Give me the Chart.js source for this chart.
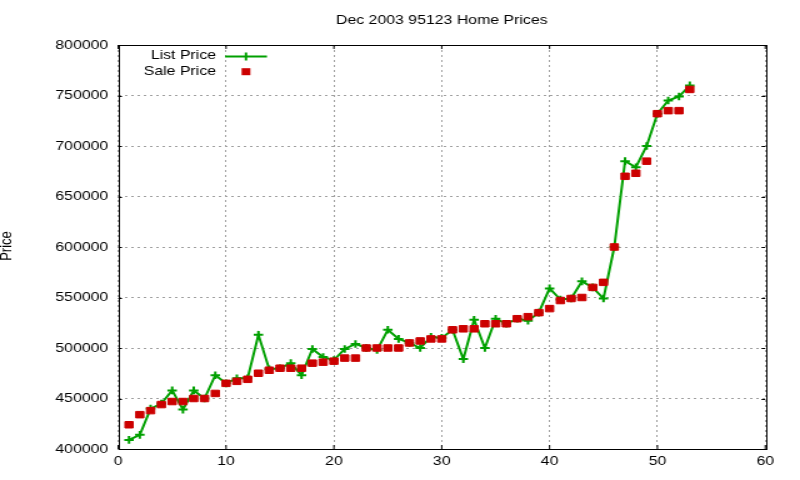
<!DOCTYPE html>
<html>
<head>
<meta charset="utf-8">
<script src="https://cdn.jsdelivr.net/npm/chart.js@4"></script>
<style>
  html, body { margin: 0; padding: 0; background: #fff; overflow: hidden; }
  /* the reference looks like a 640 wide plot stretched to 800 */
  #wrap { width: 640px; height: 480px; transform: scaleX(1.25); transform-origin: 0 0; }
</style>
</head>
<body>
<div id="wrap"><canvas id="priceChart"></canvas></div>
<script>
const days = [1, 2, 3, 4, 5, 6, 7, 8, 9, 10, 11, 12, 13, 14, 15, 16, 17, 18, 19, 20,
  21, 22, 23, 24, 25, 26, 27, 28, 29, 30, 31, 32, 33, 34, 35, 36, 37, 38, 39, 40,
  41, 42, 43, 44, 45, 46, 47, 48, 49, 50, 51, 52, 53];
const listPrice = [409000, 414000, 440000, 445000, 458000, 439000, 458000, 450000, 473000, 465000,
  470000, 470000, 513000, 479000, 480000, 485000, 473000, 499000, 491000, 488000,
  499000, 504000, 500000, 498000, 518000, 509000, 505000, 500000, 511000, 510000,
  518000, 489000, 528000, 500000, 529000, 524000, 529000, 527000, 535000, 559000,
  548000, 549000, 566000, 560000, 549000, 600000, 685000, 679000, 700000, 732000,
  745000, 749000, 760000];
const salePrice = [424000, 434000, 438000, 444000, 447000, 447000, 450000, 450000, 455000, 465000,
  467000, 469000, 475000, 478000, 480000, 480000, 480000, 485000, 486000, 487000,
  490000, 490000, 500000, 500000, 500000, 500000, 505000, 507000, 509000, 509000,
  518000, 519000, 519000, 524000, 524000, 524000, 529000, 531000, 535000, 539000,
  547000, 549000, 550000, 560000, 565000, 600000, 670000, 673000, 685000, 732000,
  735000, 735000, 756000];
const xTicks = [0, 10, 20, 30, 40, 50, 60];
const yTicks = [400000, 450000, 500000, 550000, 600000, 650000, 700000, 750000, 800000];

const titleText = "Dec 2003 95123 Home Prices";
const yLabel = "Price";
const green = "#00a000";
const red = "#cc0000";
const font = "Liberation Sans, Arial, sans-serif";
const fontSize = 12.7;

function pairs(ys) {
  return days.map((d, i) => ({ x: d, y: ys[i] }));
}

// title, y label, key, border and inward ticks, gnuplot style
const gnuplotBits = {
  id: "gnuplotBits",
  afterDraw(chart) {
    const ctx = chart.ctx;
    const a = chart.chartArea;
    const xs = chart.scales.x, ys = chart.scales.y;
    ctx.save();
    ctx.fillStyle = "#000";
    ctx.font = fontSize + "px " + font;
    ctx.textAlign = "center";
    ctx.textBaseline = "middle";
    ctx.fillText(titleText, (a.left + a.right) / 2, 20);

    ctx.save();
    ctx.translate(5, 246);
    ctx.rotate(-Math.PI / 2);
    ctx.font = "13px " + font;
    ctx.fillText(yLabel, 0, 0);
    ctx.restore();

    // border
    ctx.strokeStyle = "#000";
    ctx.lineWidth = 1;
    ctx.strokeRect(Math.round(a.left) + 0.5, Math.round(a.top) + 0.5,
      Math.round(a.right - a.left), Math.round(a.bottom - a.top));

    // inward ticks on all four sides
    ctx.beginPath();
    yTicks.forEach(v => {
      const py = Math.round(ys.getPixelForValue(v)) + 0.5;
      ctx.moveTo(a.left, py); ctx.lineTo(a.left + 3, py);
      ctx.moveTo(a.right, py); ctx.lineTo(a.right - 3, py);
    });
    xTicks.forEach(v => {
      const px = xs.getPixelForValue(v);
      ctx.moveTo(px, a.bottom); ctx.lineTo(px, a.bottom - 4);
      ctx.moveTo(px, a.top); ctx.lineTo(px, a.top + 4);
    });
    ctx.stroke();

    // key
    ctx.textAlign = "right";
    ctx.fillText("List Price", 172.8, 55);
    ctx.fillText("Sale Price", 172.8, 71);
    ctx.strokeStyle = green;
    ctx.lineWidth = 2;
    ctx.beginPath();
    ctx.moveTo(180, 56.5); ctx.lineTo(213.6, 56.5);
    ctx.moveTo(196.8, 52.5); ctx.lineTo(196.8, 60.5);
    ctx.stroke();
    ctx.fillStyle = red;
    ctx.fillRect(196.8 - 3.5, 71.7 - 3.5, 7, 7);
    ctx.restore();
  }
};

new Chart(document.getElementById("priceChart"), {
  type: "line",
  data: {
    datasets: [
      {
        label: "Sale Price",
        data: pairs(salePrice),
        showLine: false,
        pointStyle: "rect",
        pointRadius: 4.6,
        pointBorderWidth: 1,
        pointBackgroundColor: red,
        pointBorderColor: red
      },
      {
        label: "List Price",
        data: pairs(listPrice),
        borderColor: green,
        borderWidth: 2,
        tension: 0,
        pointStyle: "cross",
        pointRadius: 3.8,
        pointBorderWidth: 2,
        pointBorderColor: green
      }
    ]
  },
  options: {
    responsive: true,
    maintainAspectRatio: false,
    animation: false,
    events: [],
    layout: { padding: { left: 0, top: 45, right: 27.8, bottom: 0 } },
    plugins: {
      legend: { display: false },
      title: { display: false },
      tooltip: { enabled: false }
    },
    scales: {
      x: {
        type: "linear",
        min: 0,
        max: 60,
        afterBuildTicks: s => { s.ticks = xTicks.map(v => ({ value: v })); },
        afterFit: s => { s.height = 31; },
        ticks: { color: "#000", padding: 5, maxRotation: 0, font: { family: font, size: fontSize } },
        grid: { color: "#a0a0a0", lineWidth: 1, drawTicks: false },
        border: { display: false, dash: [2, 3] }
      },
      y: {
        min: 400000,
        max: 800000,
        afterBuildTicks: s => { s.ticks = yTicks.map(v => ({ value: v })); },
        afterFit: s => { s.width = 94.6; },
        ticks: {
          color: "#000", padding: 8,
          font: { family: font, size: fontSize },
          callback: v => String(v)
        },
        grid: { color: "#a0a0a0", lineWidth: 1, drawTicks: false },
        border: { display: false, dash: [2, 3] }
      }
    }
  },
  plugins: [gnuplotBits]
});
</script>
</body>
</html>
